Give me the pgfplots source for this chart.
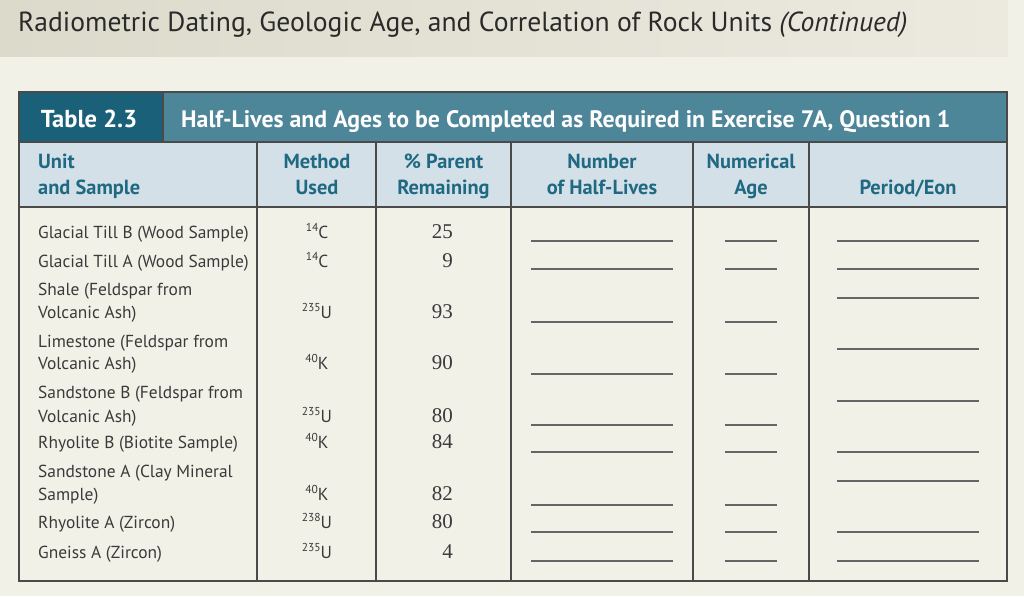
\documentclass[border=0pt]{standalone}
\usepackage{fontspec}
\setmainfont{PT Sans}
\newfontfamily\numfont{Liberation Serif}
\usepackage{pgfplots}
\usepackage{pgfplotstable}
\pgfplotsset{compat=1.18}

\definecolor{pagebg}{HTML}{F2F1E8}
\definecolor{bandL}{HTML}{DCDACB}
\definecolor{bandR}{HTML}{ECEADF}
\definecolor{titletxt}{HTML}{2A2A2A}
\definecolor{tabdark}{HTML}{1B6079}
\definecolor{tabbar}{HTML}{4E8699}
\definecolor{headbg}{HTML}{D3E0E8}
\definecolor{headtxt}{HTML}{1F6A82}
\definecolor{rule}{HTML}{4A4A4A}
\definecolor{bodytxt}{HTML}{3A3A3A}
\definecolor{blank}{HTML}{666666}

\newcommand\titlef{\fontsize{27.6bp}{30bp}\selectfont}
\newcommand\tabf{\fontsize{24.5bp}{28bp}\selectfont\bfseries}
\newcommand\barf{\fontsize{23.8bp}{28bp}\selectfont\bfseries}
\newcommand\headf{\fontsize{20.4bp}{24bp}\selectfont\bfseries}
\newcommand\bodyf{\fontsize{17.4bp}{20bp}\selectfont}
\newcommand\numf{\fontsize{21bp}{24bp}\selectfont\numfont}
\newcommand\iso[2]{{\fontsize{11.5bp}{11.5bp}\selectfont\raisebox{6.5bp}{#1}}#2}

% % parent remaining, placed at the right edge of its column, on the row baseline
\pgfplotstableread{
x   y   label
453 238 25
453 267 9
453 318 93
453 369 90
453 422 80
453 448 84
453 500 82
453 528 80
453 558 4
}\parentdata

\begin{document}
\begin{tikzpicture}
\begin{axis}[
    width=1024bp, height=596bp, scale only axis,
    xmin=0, xmax=1024, ymin=0, ymax=596,
    y dir=reverse,
    hide axis,
    clip=false,
]
% page and title band
\fill[pagebg] (0,0) rectangle (1024,596);
\shade[left color=bandL, right color=bandR] (0,0) rectangle (1008,57);
\node[anchor=base west, inner sep=0pt, text=titletxt, font=\titlef] at (18,32)
    {Radiometric Dating, Geologic Age, and Correlation of Rock Units \textit{(Continued)}};

% title bar and header row
\fill[tabbar] (19,92) rectangle (1007,142);
\fill[tabdark] (19,92) rectangle (163,142);
\fill[headbg] (19,142) rectangle (1007,207);
\node[anchor=base, inner sep=0pt, text=white, font=\tabf] at (89,127) {Table 2.3};
\node[anchor=base west, inner sep=0pt, text=white, font=\barf] at (181,127)
    {Half-Lives and Ages to be Completed as Required in Exercise 7A, Question 1};

% rules
\draw[rule, line width=1.2bp] (19,92) rectangle (1007,581);
\draw[rule, line width=1.2bp] (163,92) -- (163,142);
\draw[rule, line width=1.2bp] (19,142) -- (1007,142);
\draw[rule, line width=1.2bp] (19,207) -- (1007,207);
\draw[rule, line width=1.1bp] (257,142) -- (257,581);
\draw[rule, line width=1.1bp] (376,142) -- (376,581);
\draw[rule, line width=1.1bp] (511,142) -- (511,581);
\draw[rule, line width=1.1bp] (693,142) -- (693,581);
\draw[rule, line width=1.1bp] (809,142) -- (809,581);

% column heads
\begin{scope}[every node/.style={inner sep=0pt, text=headtxt, font=\headf}]
\node[anchor=base west] at (38,168) {Unit};
\node[anchor=base west] at (38,194) {and Sample};
\node[anchor=base] at (317,168) {Method};
\node[anchor=base] at (317,194) {Used};
\node[anchor=base] at (443.5,168) {\% Parent};
\node[anchor=base] at (443.5,194) {Remaining};
\node[anchor=base] at (602,168) {Number};
\node[anchor=base] at (602,194) {of Half-Lives};
\node[anchor=base] at (751,168) {Numerical};
\node[anchor=base] at (751,194) {Age};
\node[anchor=base] at (908,194) {Period/Eon};
\end{scope}

% unit and sample
\begin{scope}[every node/.style={inner sep=0pt, text=bodytxt, font=\bodyf, anchor=base west}]
\node at (38,238) {Glacial Till B (Wood Sample)};
\node at (38,267) {Glacial Till A (Wood Sample)};
\node at (38,295) {Shale (Feldspar from};
\node at (38,318) {Volcanic Ash)};
\node at (38,347) {Limestone (Feldspar from};
\node at (38,369) {Volcanic Ash)};
\node at (38,398) {Sandstone B (Feldspar from};
\node at (38,422) {Volcanic Ash)};
\node at (38,448) {Rhyolite B (Biotite Sample)};
\node at (38,477) {Sandstone A (Clay Mineral};
\node at (38,500) {Sample)};
\node at (38,528) {Rhyolite A (Zircon)};
\node at (38,558) {Gneiss A (Zircon)};
\end{scope}

% method used
\begin{scope}[every node/.style={inner sep=0pt, text=bodytxt, font=\bodyf, anchor=base}]
\node at (317,238) {\iso{14}{C}};
\node at (317,267) {\iso{14}{C}};
\node at (317,318) {\iso{235}{U}};
\node at (317,369) {\iso{40}{K}};
\node at (317,422) {\iso{235}{U}};
\node at (317,448) {\iso{40}{K}};
\node at (317,500) {\iso{40}{K}};
\node at (317,528) {\iso{238}{U}};
\node at (317,558) {\iso{235}{U}};
\end{scope}

% % parent remaining
\addplot[draw=none, mark=none, nodes near coords, point meta=explicit symbolic,
    every node near coord/.append style={anchor=base east, inner sep=0pt,
        text=bodytxt, font=\numf}]
    table[x=x, y=y, meta=label] {\parentdata};

% answer blanks: half-lives, age, period
\draw[blank, line width=1.3bp] (531,241) -- (673,241) (725,241) -- (777,241) (837,241) -- (979,241);
\draw[blank, line width=1.3bp] (531,269) -- (673,269) (725,269) -- (777,269) (837,269) -- (979,269);
\draw[blank, line width=1.3bp] (837,298) -- (979,298);
\draw[blank, line width=1.3bp] (531,322) -- (673,322) (725,322) -- (777,322);
\draw[blank, line width=1.3bp] (837,349) -- (979,349);
\draw[blank, line width=1.3bp] (531,374) -- (673,374) (725,374) -- (777,374);
\draw[blank, line width=1.3bp] (837,401) -- (979,401);
\draw[blank, line width=1.3bp] (531,425) -- (673,425) (725,425) -- (777,425);
\draw[blank, line width=1.3bp] (531,452) -- (673,452) (725,452) -- (777,452) (837,452) -- (979,452);
\draw[blank, line width=1.3bp] (837,481) -- (979,481);
\draw[blank, line width=1.3bp] (531,505) -- (673,505) (725,505) -- (777,505);
\draw[blank, line width=1.3bp] (531,532) -- (673,532) (725,532) -- (777,532) (837,532) -- (979,532);
\draw[blank, line width=1.3bp] (531,561) -- (673,561) (725,561) -- (777,561) (837,561) -- (979,561);
\end{axis}
\end{tikzpicture}
\end{document}
